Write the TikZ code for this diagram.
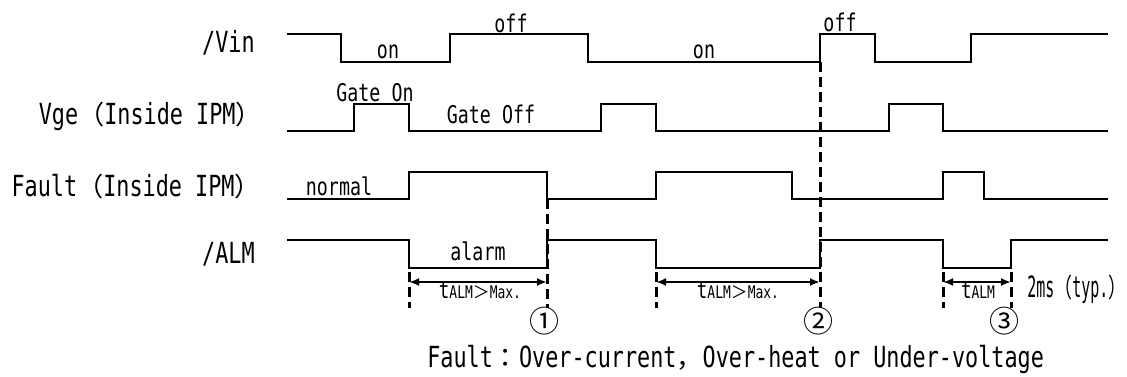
\documentclass[tikz,border=0pt]{standalone}
\usepackage{fontspec}
\setmainfont{DejaVu Sans Mono}[FakeStretch=0.75]
\newfontfamily\cjk{Noto Sans CJK JP}[Scale=0.9]
\usetikzlibrary{arrows.meta}
\begin{document}
\begin{tikzpicture}[x=0.75pt,y=-0.75pt,
  wave/.style={line width=1.5pt, line join=miter},
  guide/.style={line width=2.25pt, dash pattern=on 7.5pt off 3.75pt},
  dim/.style={line width=1.5pt, {Latex[length=7.5pt,width=6pt]}-{Latex[length=7.5pt,width=6pt]}},
  lab/.style={font=\fontsize{21.8}{23}\selectfont, inner sep=0pt},
  sm/.style={font=\fontsize{18.3}{20}\selectfont, inner sep=0pt},
  foot/.style={font=\fontsize{21.8}{24}\selectfont, inner sep=0pt},
  num/.style={font=\cjk\fontsize{25}{26}\selectfont, inner sep=0pt}]
\useasboundingbox (0,0) rectangle (1127,376);
% dashed guides
\draw[guide] (547,199) -- (547,308);
\draw[guide] (820,62) -- (820,308);
\draw[guide] (409,272) -- (409,308);
\draw[guide] (656,272) -- (656,308);
\draw[guide] (943,272) -- (943,308);
\draw[guide] (1011,272) -- (1011,308);
% waveforms
\draw[wave] (287,34) -| (341,62) -| (450,34) -| (588,62) -| (820,34) -| (875,62) -| (971,34) -- (1108,34);
\draw[wave] (287,131) -| (354,104) -| (409,131) -| (601,104) -| (656,131) -| (889,104) -| (943,131) -- (1108,131);
\draw[wave] (287,199) -| (409,172) -| (547,199) -| (656,172) -| (792,199) -| (943,172) -| (984,199) -- (1108,199);
\draw[wave] (287,240) -| (409,268) -| (547,240) -| (656,268) -| (820,240) -| (943,268) -| (1011,240) -- (1108,240);
% dimension arrows
\coordinate (a1) at (409,282); \coordinate (b1) at (547,282);
\coordinate (a2) at (656,282); \coordinate (b2) at (820,282);
\coordinate (a3) at (943,282); \coordinate (b3) at (1011,282);
\draw[dim] (a1) -- (b1);
\draw[dim] (a2) -- (b2);
\draw[dim] (a3) -- (b3);
% row labels
\node[lab, anchor=base east] (lvin) at (255,52) {/Vin};
\node[lab, anchor=base east] (lvge) at (262,124.5) {Vge{\cjk （}Inside IPM{\cjk ）}};
\node[lab, anchor=base east] (lfault) at (261,196) {Fault{\cjk （}Inside IPM{\cjk ）}};
\node[lab, anchor=base east] (lalm) at (255,263) {/ALM};
% state labels
\node[sm, anchor=base] (on1) at (388,58) {on};
\node[sm, anchor=base] (off1) at (511,32) {off};
\node[sm, anchor=base] (on2) at (704,58) {on};
\node[sm, anchor=base] (off2) at (840,31) {off};
\node[sm, anchor=base] (gon) at (375,101) {Gate On};
\node[sm, anchor=base] (goff) at (491,123) {Gate Off};
\node[sm, anchor=base] (norm) at (339,195) {normal};
\node[sm, anchor=base] (alarm) at (478,260) {alarm};
% timing labels
\newcommand{\talm}{{\fontsize{17.5}{17}\selectfont t}{\fontsize{13}{13}\selectfont ALM}}
\node[inner sep=0pt, anchor=base] (t1) at (480,298) {\talm{\cjk\fontsize{14}{14}\selectfont ＞}{\fontsize{13}{13}\selectfont Max.}};
\node[inner sep=0pt, anchor=base] (t2) at (738,298) {\talm{\cjk\fontsize{14}{14}\selectfont ＞}{\fontsize{13}{13}\selectfont Max.}};
\node[inner sep=0pt, anchor=base] (t3) at (978,298) {\talm};
\node[inner sep=0pt, anchor=base west, font=\fontsize{22}{23}\selectfont] (typ) at (1027,297) {\scalebox{0.68}[1]{2ms{\cjk （}typ.{\cjk ）}}};
\node[num] (n1) at (544,321) {①};
\node[num] (n2) at (818,321) {②};
\node[num] (n3) at (1004,321) {③};
\node[foot, anchor=base west] (foot) at (427,367) {Fault{\cjk ：}Over-current{\cjk ，}Over-heat or Under-voltage};
\end{tikzpicture}
\end{document}
